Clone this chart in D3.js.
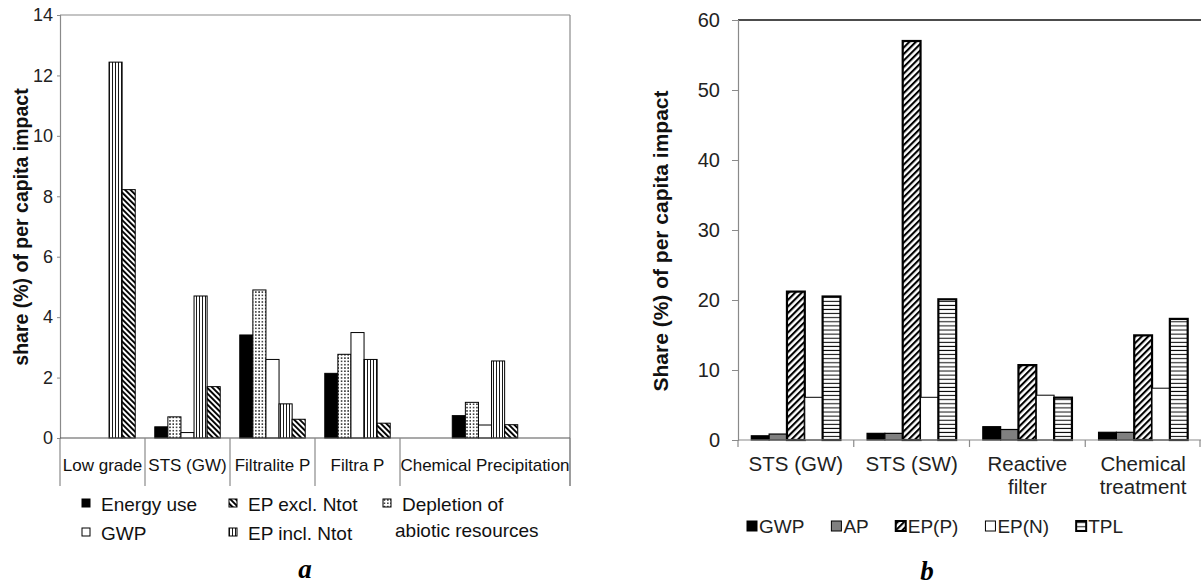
<!DOCTYPE html>
<html>
<head>
<meta charset="utf-8">
<script src="https://cdn.jsdelivr.net/npm/d3@7"></script>
<style>
  html, body { margin: 0; padding: 0; background: #fff; }
  svg { display: block; font-family: "Liberation Sans", Arial, sans-serif; }
</style>
</head>
<body>
<svg id="chart" width="1201" height="585"></svg>
<script>
// ---------- panel a: share of per capita impact by treatment option ----------
const categoriesA = ["Low grade", "STS (GW)", "Filtralite P", "Filtra P", "Chemical Precipitation"];
const slotsA = [1, 1, 1, 1, 2];               // axis slots taken by each category
const seriesA = ["Energy use", "Depletion of abiotic resources", "GWP", "EP incl. Ntot", "EP excl. Ntot"];
const energyUse = [0, 0.37, 3.41, 2.14, 0.74];
const depletion = [0, 0.70, 4.90, 2.77, 1.18];
const gwpA      = [0, 0.18, 2.60, 3.49, 0.43];
const epIncl    = [12.44, 4.70, 1.13, 2.60, 2.55];
const epExcl    = [8.22, 1.70, 0.62, 0.49, 0.44];
const ticksA = [0, 2, 4, 6, 8, 10, 12, 14];

// ---------- panel b ----------
const categoriesB = [["STS (GW)"], ["STS (SW)"], ["Reactive", "filter"], ["Chemical", "treatment"]];
const seriesB = ["GWP", "AP", "EP(P)", "EP(N)", "TPL"];
const gwpB = [0.60, 0.95, 1.90, 1.10];
const apB  = [0.85, 0.95, 1.50, 1.10];
const epP  = [21.2, 57.0, 10.7, 14.95];
const epN  = [6.1, 6.1, 6.4, 7.4];
const tpl  = [20.5, 20.1, 6.05, 17.3];
const ticksB = [0, 10, 20, 30, 40, 50, 60];

const valuesA = [energyUse, depletion, gwpA, epIncl, epExcl];
const valuesB = [gwpB, apB, epP, epN, tpl];

const svg = d3.select("#chart");
const defs = svg.append("defs");

// fill patterns
function pattern(id, w, h, transform) {
  const p = defs.append("pattern").attr("id", id)
    .attr("patternUnits", "userSpaceOnUse").attr("width", w).attr("height", h);
  if (transform) p.attr("patternTransform", transform);
  p.append("rect").attr("width", w).attr("height", h).attr("fill", "#fff");
  return p;
}
pattern("dots", 3.3, 3.3).append("rect").attr("x", 1).attr("y", 1).attr("width", 1.4).attr("height", 1.4).attr("fill", "#000");
pattern("vlines", 3, 10).append("rect").attr("x", 1).attr("y", 0).attr("width", 0.9).attr("height", 10).attr("fill", "#000");
pattern("bslash", 3.9, 10, "rotate(-45)").append("rect").attr("x", 0).attr("y", 0).attr("width", 1.9).attr("height", 10).attr("fill", "#000");
pattern("fslash", 4.6, 10, "rotate(45)").append("rect").attr("x", 0).attr("y", 0).attr("width", 2.1).attr("height", 10).attr("fill", "#000");
pattern("hlines", 10, 4.1).append("rect").attr("x", 0).attr("y", 1.5).attr("width", 10).attr("height", 1).attr("fill", "#000");

const fillA = ["#000", "url(#dots)", "#fff", "url(#vlines)", "url(#bslash)"];
const fillB = ["#000", "#808080", "url(#fslash)", "#fff", "url(#hlines)"];
const strokeWB = [1.2, 1.2, 2.2, 1, 2.2];

// ================= panel a =================
const A = { left: 60, right: 570, top: 15, bottom: 438 };
const xA = d3.scaleLinear().domain([0, d3.sum(slotsA)]).range([A.left, A.right]);
const yA = d3.scaleLinear().domain([0, 14]).range([A.bottom, A.top]);
const slotW = xA(1) - xA(0);
const innerA = d3.scaleBand().domain(d3.range(seriesA.length)).range([-slotW * 0.385, slotW * 0.385]);
const startsA = slotsA.map((s, i) => d3.sum(slotsA.slice(0, i)));

const gA = svg.append("g");

// frame
gA.append("line").attr("x1", A.left).attr("x2", A.right).attr("y1", A.top).attr("y2", A.top)
  .attr("stroke", "#8a8a8a").attr("stroke-width", 1.2);
gA.append("line").attr("x1", A.right).attr("x2", A.right).attr("y1", A.top).attr("y2", 486)
  .attr("stroke", "#8a8a8a").attr("stroke-width", 1.2);

// y axis
const axA = gA.append("g").attr("transform", `translate(${A.left},0)`)
  .call(d3.axisLeft(yA).tickValues(ticksA).tickSize(3).tickPadding(4).tickFormat(d3.format("d")));
axA.select(".domain").attr("stroke", "#8a8a8a").attr("stroke-width", 1.2);
axA.selectAll(".tick line").attr("stroke", "#8a8a8a");
axA.selectAll(".tick text").attr("font-size", 18).attr("fill", "#222")
  .attr("font-family", "'Liberation Sans', Arial, sans-serif");

// bars
categoriesA.forEach((c, i) => {
  const cx = xA(startsA[i] + slotsA[i] / 2);
  seriesA.forEach((s, j) => {
    const v = valuesA[j][i];
    if (!v) return;
    gA.append("rect")
      .attr("x", cx + innerA(j)).attr("width", innerA.bandwidth())
      .attr("y", yA(v)).attr("height", yA(0) - yA(v))
      .attr("fill", fillA[j]).attr("stroke", "#000").attr("stroke-width", 1);
  });
});

// category axis and label table
gA.append("line").attr("x1", A.left).attr("x2", A.right).attr("y1", A.bottom).attr("y2", A.bottom)
  .attr("stroke", "#555").attr("stroke-width", 1.2);
startsA.concat([d3.sum(slotsA)]).forEach(s => {
  gA.append("line").attr("x1", xA(s)).attr("x2", xA(s)).attr("y1", A.bottom).attr("y2", 486)
    .attr("stroke", "#8a8a8a").attr("stroke-width", 1.2);
});
categoriesA.forEach((c, i) => {
  gA.append("text").attr("x", xA(startsA[i] + slotsA[i] / 2)).attr("y", 471)
    .attr("text-anchor", "middle").attr("font-size", 17).attr("fill", "#111").text(c);
});

// y title
gA.append("text").attr("transform", "translate(28,227) rotate(-90)")
  .attr("text-anchor", "middle").attr("font-size", 19.5).attr("font-weight", "bold").attr("fill", "#111")
  .text("share (%) of per capita impact");

// legend
const legendA = [
  { s: 0, x: 82, y: 511, label: ["Energy use"] },
  { s: 2, x: 82, y: 540, label: ["GWP"] },
  { s: 4, x: 229, y: 511, label: ["EP excl. Ntot"] },
  { s: 3, x: 229, y: 540, label: ["EP incl. Ntot"] },
  { s: 1, x: 383, y: 511, label: ["Depletion of", "abiotic resources"] }
];
legendA.forEach(d => {
  gA.append("rect").attr("x", d.x).attr("y", d.y - 12).attr("width", 8).attr("height", 8)
    .attr("fill", fillA[d.s]).attr("stroke", "#000").attr("stroke-width", 1);
  d.label.forEach((t, k) => {
    gA.append("text").attr("x", k === 0 ? d.x + 19 : d.x + 12).attr("y", d.y + k * 26)
      .attr("font-size", 19).attr("fill", "#111").text(t);
  });
});

gA.append("text").attr("x", 305).attr("y", 578).attr("text-anchor", "middle")
  .attr("font-family", "'Liberation Serif', 'Times New Roman', serif")
  .attr("font-style", "italic").attr("font-weight", "bold").attr("font-size", 27).text("a");

// ================= panel b =================
const B = { left: 738, right: 1201, top: 20, bottom: 440 };
const xB = d3.scaleBand().domain(d3.range(categoriesB.length)).range([B.left, B.right]);
const yB = d3.scaleLinear().domain([0, 60]).range([B.bottom, B.top]);
const groupW = xB.bandwidth() * 0.77;
const innerB = d3.scaleBand().domain(d3.range(seriesB.length)).range([0, groupW]);

const gB = svg.append("g");

gB.append("line").attr("x1", B.left).attr("x2", B.right).attr("y1", B.top).attr("y2", B.top)
  .attr("stroke", "#111").attr("stroke-width", 1.6);

const axB = gB.append("g").attr("transform", `translate(${B.left},0)`)
  .call(d3.axisLeft(yB).tickValues(ticksB).tickSize(6).tickPadding(12).tickFormat(d3.format("d")));
axB.select(".domain").attr("stroke", "#8a8a8a").attr("stroke-width", 1.2);
axB.selectAll(".tick line").attr("stroke", "#8a8a8a");
axB.selectAll(".tick text").attr("font-size", 20).attr("fill", "#222")
  .attr("font-family", "'Liberation Sans', Arial, sans-serif");

categoriesB.forEach((c, i) => {
  const x0 = xB(i) + (xB.bandwidth() - groupW) / 2;
  seriesB.forEach((s, j) => {
    const v = valuesB[j][i];
    gB.append("rect")
      .attr("x", x0 + innerB(j)).attr("width", innerB.bandwidth())
      .attr("y", yB(v)).attr("height", yB(0) - yB(v))
      .attr("fill", fillB[j]).attr("stroke", "#000").attr("stroke-width", strokeWB[j]);
  });
});

// category axis
gB.append("line").attr("x1", B.left).attr("x2", B.right).attr("y1", B.bottom).attr("y2", B.bottom)
  .attr("stroke", "#8a8a8a").attr("stroke-width", 1.2);
d3.range(categoriesB.length + 1).forEach(i => {
  const x = i < categoriesB.length ? xB(i) : B.right - 1;
  gB.append("line").attr("x1", x).attr("x2", x).attr("y1", B.bottom).attr("y2", B.bottom + 7)
    .attr("stroke", "#8a8a8a").attr("stroke-width", 1.2);
});
categoriesB.forEach((lines, i) => {
  lines.forEach((t, k) => {
    gB.append("text").attr("x", xB(i) + xB.bandwidth() / 2).attr("y", 471 + k * 23)
      .attr("text-anchor", "middle").attr("font-size", 20.5).attr("fill", "#222").text(t);
  });
});

gB.append("text").attr("transform", "translate(668,241) rotate(-90)")
  .attr("text-anchor", "middle").attr("font-size", 21).attr("font-weight", "bold").attr("fill", "#111")
  .text("Share (%) of per capita impact");

// legend
let lx = 747;
seriesB.forEach((s, j) => {
  gB.append("rect").attr("x", lx).attr("y", 521).attr("width", 10).attr("height", 10)
    .attr("fill", fillB[j]).attr("stroke", "#000").attr("stroke-width", j === 2 || j === 4 ? 2 : 1);
  const t = gB.append("text").attr("x", lx + 12).attr("y", 533)
    .attr("font-size", 19).attr("fill", "#222").text(s);
  lx += 12 + t.node().getComputedTextLength() + 27;
});

gB.append("text").attr("x", 927).attr("y", 580).attr("text-anchor", "middle")
  .attr("font-family", "'Liberation Serif', 'Times New Roman', serif")
  .attr("font-style", "italic").attr("font-weight", "bold").attr("font-size", 27).text("b");
</script>
</body>
</html>
